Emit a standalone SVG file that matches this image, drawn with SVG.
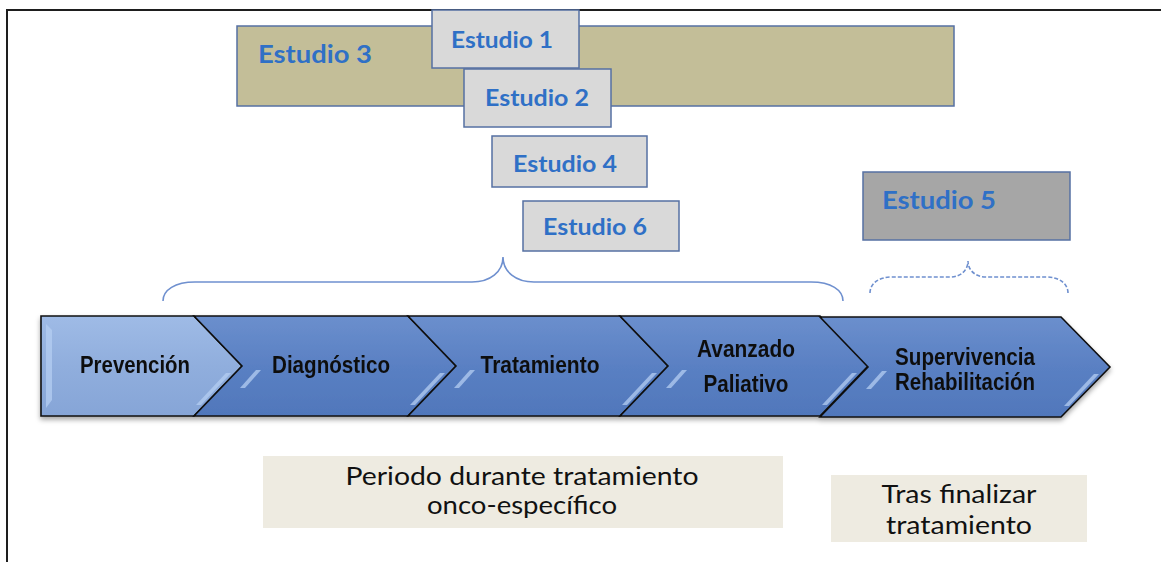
<svg xmlns="http://www.w3.org/2000/svg" width="1161" height="562" viewBox="0 0 1161 562">
<style>
.study{stroke:#5670a3;stroke-width:1.5}
.stxt{font-family:Lato,"Liberation Sans",sans-serif;font-weight:700;fill:#2f70c6}
.chev{stroke:#111;stroke-width:1.6;stroke-linejoin:miter}
.ctxt{font-family:"Liberation Sans",Arial,sans-serif;font-weight:700;font-size:23px;fill:#111;text-anchor:middle}
.brace{fill:none;stroke:#6f90cf;stroke-width:1.6}
.btxt{font-family:Lato,"Liberation Sans",sans-serif;font-size:25px;fill:#111;text-anchor:middle}
.shine{fill:#b4cdf2;opacity:0.75}
</style>
<defs>
<linearGradient id="gBlue" x1="0" y1="0" x2="0" y2="1">
<stop offset="0" stop-color="#6b8fcd"/>
<stop offset="0.5" stop-color="#5a80c3"/>
<stop offset="1" stop-color="#5077bb"/>
</linearGradient>
<linearGradient id="gLight" x1="0" y1="0" x2="0" y2="1">
<stop offset="0" stop-color="#9fbbe6"/>
<stop offset="0.5" stop-color="#90aedd"/>
<stop offset="1" stop-color="#86a5d7"/>
</linearGradient>
<filter id="sh" x="-5%" y="-10%" width="110%" height="130%">
<feDropShadow dx="0" dy="3" stdDeviation="2.5" flood-color="#000" flood-opacity="0.35"/>
</filter>
</defs>
<rect width="1161" height="562" fill="#fff"/>
<rect x="7" y="10" width="1200" height="600" fill="none" stroke="#1e1e1e" stroke-width="2"/>

<g id="estudio3">
<rect class="study" x="237" y="26" width="717" height="80" fill="#c3be98"/>
<text class="stxt" x="258" y="63" font-size="25" textLength="114" lengthAdjust="spacingAndGlyphs">Estudio 3</text>
</g>
<g id="estudio1">
<rect class="study" x="432" y="10" width="147" height="58" fill="#d9d9d9"/>
<text class="stxt" x="451" y="48" font-size="23" textLength="102" lengthAdjust="spacingAndGlyphs">Estudio 1</text>
</g>
<g id="estudio2">
<rect class="study" x="464" y="69" width="147" height="58" fill="#d9d9d9"/>
<text class="stxt" x="485" y="106" font-size="23" textLength="104" lengthAdjust="spacingAndGlyphs">Estudio 2</text>
</g>
<g id="estudio4">
<rect class="study" x="492" y="136" width="155" height="51" fill="#d9d9d9"/>
<text class="stxt" x="513" y="172" font-size="23" textLength="104" lengthAdjust="spacingAndGlyphs">Estudio 4</text>
</g>
<g id="estudio6">
<rect class="study" x="523" y="201" width="156" height="50" fill="#d9d9d9"/>
<text class="stxt" x="543" y="235" font-size="23" textLength="104" lengthAdjust="spacingAndGlyphs">Estudio 6</text>
</g>
<g id="estudio5">
<rect class="study" x="863" y="172" width="207" height="68" fill="#a6a6a6"/>
<text class="stxt" x="882" y="209" font-size="25" textLength="114" lengthAdjust="spacingAndGlyphs">Estudio 5</text>
</g>

<g id="connectors">
<path class="brace" d="M163,301 C163,290 175,282 195,282 L472,282 C490,282 503,272 503,257 C503,272 516,282 534,282 L811,282 C831,282 843,290 843,301"/>
<path class="brace" stroke-dasharray="4,2" d="M870,293 C870,284 878,277 892,277 L950,277 C961,277 968,270 968,261 C968,270 975,277 986,277 L1046,277 C1060,277 1068,284 1068,293"/>
</g>

<g id="chevrons" filter="url(#sh)">
<g id="prevencion">
<path class="chev" fill="url(#gLight)" d="M41,316 L194,316 L242,366 L194,416 L41,416 Z"/>
<path class="shine" d="M46,324 L52,330 L52,400 L46,408 Z"/>
<path class="shine" d="M226,373 L196,405 L201,405 L231,373 Z"/>
<text class="ctxt" x="135" y="373" textLength="110" lengthAdjust="spacingAndGlyphs">Prevención</text>
</g>
<g id="diagnostico">
<path class="chev" fill="url(#gBlue)" d="M194,316 L408,316 L456,366 L408,416 L194,416 L242,366 Z"/>
<path class="shine" d="M256,370 L240,388 L245,388 L261,370 Z"/>
<path class="shine" d="M440,373 L410,405 L415,405 L445,373 Z"/>
<text class="ctxt" x="331" y="373" textLength="118" lengthAdjust="spacingAndGlyphs">Diagnóstico</text>
</g>
<g id="tratamiento">
<path class="chev" fill="url(#gBlue)" d="M408,316 L620,316 L668,366 L620,416 L408,416 L456,366 Z"/>
<path class="shine" d="M470,370 L454,388 L459,388 L475,370 Z"/>
<path class="shine" d="M652,373 L622,405 L627,405 L657,373 Z"/>
<text class="ctxt" x="540" y="373" textLength="119" lengthAdjust="spacingAndGlyphs">Tratamiento</text>
</g>
<g id="avanzado">
<path class="chev" fill="url(#gBlue)" d="M620,316 L820,316 L868,366 L820,416 L620,416 L668,366 Z"/>
<path class="shine" d="M682,370 L666,388 L671,388 L687,370 Z"/>
<path class="shine" d="M852,373 L822,405 L827,405 L857,373 Z"/>
<text class="ctxt" x="746" y="357" textLength="98" lengthAdjust="spacingAndGlyphs">Avanzado</text>
<text class="ctxt" x="746" y="392" textLength="85" lengthAdjust="spacingAndGlyphs">Paliativo</text>
</g>
<g id="supervivencia">
<path class="chev" fill="url(#gBlue)" d="M820,317 L1061,317 L1110,367 L1061,417 L820,417 L868,367 Z"/>
<path class="shine" d="M882,371 L866,389 L871,389 L887,371 Z"/>
<path class="shine" d="M1094,374 L1064,406 L1069,406 L1099,374 Z"/>
<text class="ctxt" x="965" y="365" textLength="140" lengthAdjust="spacingAndGlyphs">Supervivencia</text>
<text class="ctxt" x="965" y="390" textLength="140" lengthAdjust="spacingAndGlyphs">Rehabilitación</text>
</g>
</g>

<g id="periodo">
<rect x="263" y="456" width="520" height="72" fill="#eeebe1"/>
<text class="btxt" x="522" y="485" textLength="353" lengthAdjust="spacingAndGlyphs">Periodo durante tratamiento</text>
<text class="btxt" x="522" y="514" textLength="190" lengthAdjust="spacingAndGlyphs">onco-específico</text>
</g>
<g id="tras">
<rect x="831" y="475" width="256" height="67" fill="#eeebe1"/>
<text class="btxt" x="959" y="503" textLength="155" lengthAdjust="spacingAndGlyphs">Tras finalizar</text>
<text class="btxt" x="959" y="534" textLength="146" lengthAdjust="spacingAndGlyphs">tratamiento</text>
</g>
</svg>
